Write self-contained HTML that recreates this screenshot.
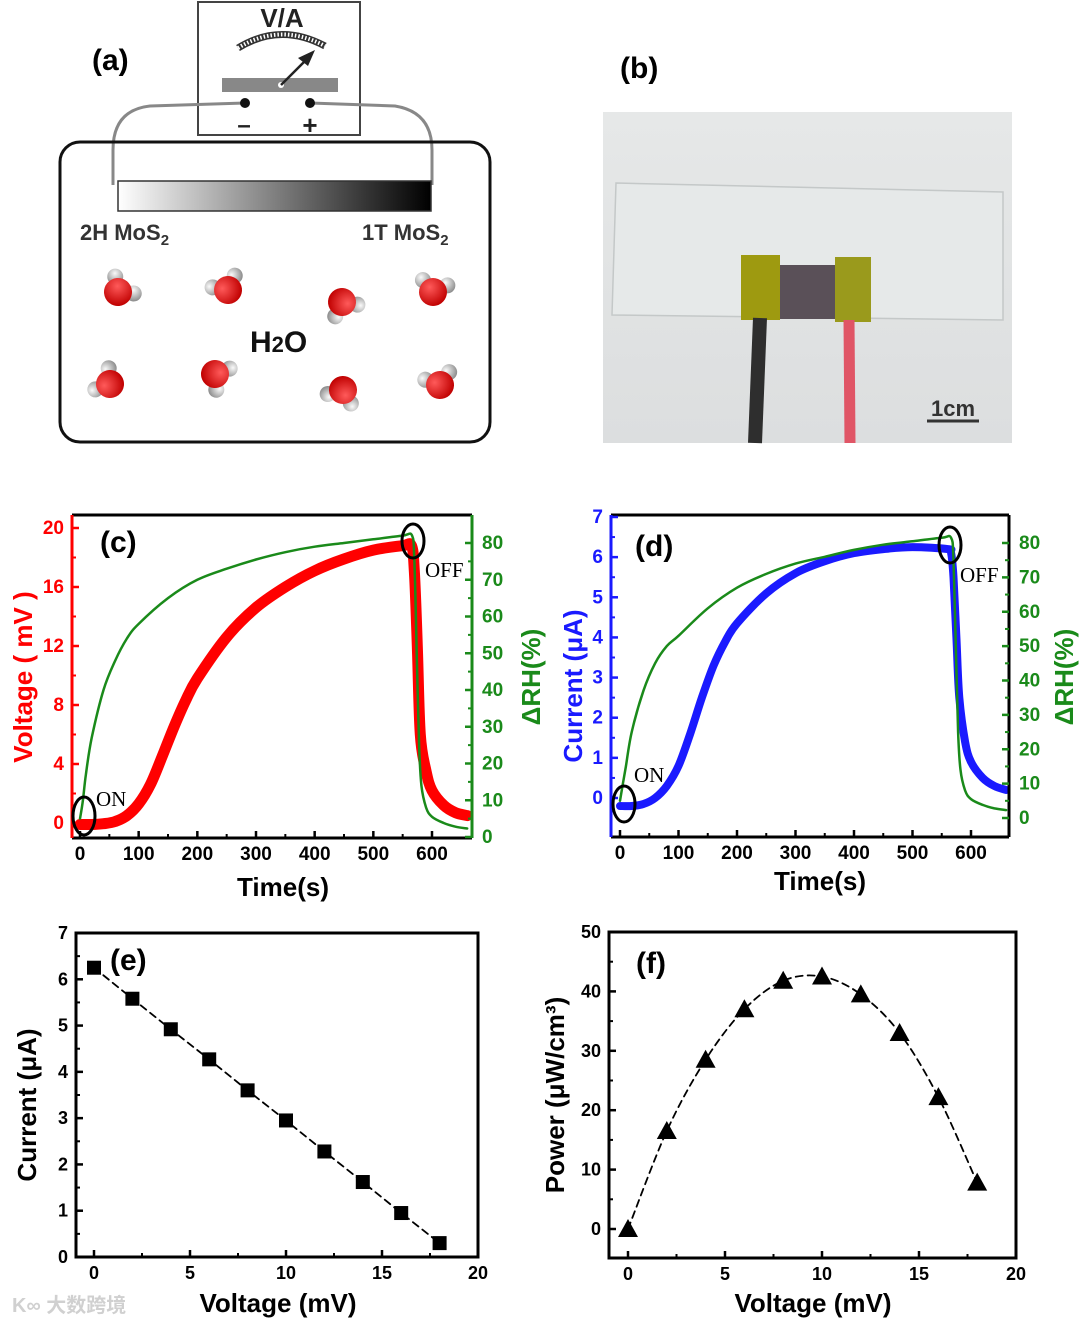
<!DOCTYPE html>
<html><head><meta charset="utf-8"><style>
html,body{margin:0;padding:0;background:#fff;}
svg{display:block;font-family:"Liberation Sans","Noto Sans CJK SC",sans-serif;}
.b{font-weight:bold;}
</style></head><body>
<svg id="fig" width="1080" height="1323" viewBox="0 0 1080 1323">
<defs>
<linearGradient id="gbar" x1="0" x2="1" y1="0" y2="0"><stop offset="0" stop-color="#fff"/><stop offset="1" stop-color="#000"/></linearGradient>
<linearGradient id="gphoto" x1="0" x2="0" y1="0" y2="1"><stop offset="0" stop-color="#e6e8e8"/><stop offset="1" stop-color="#dcdedf"/></linearGradient>
<radialGradient id="gO" cx="0.35" cy="0.35" r="0.7"><stop offset="0" stop-color="#ff5a5a"/><stop offset="1" stop-color="#c00000"/></radialGradient>
<radialGradient id="gH" cx="0.35" cy="0.35" r="0.7"><stop offset="0" stop-color="#fafafa"/><stop offset="1" stop-color="#8c8c8c"/></radialGradient>
</defs>

<!-- panel a -->
<g>
<text x="92" y="70" font-size="30" class="b">(a)</text>
<rect x="198" y="2" width="162" height="133" fill="#fff" stroke="#444" stroke-width="2"/>
<text x="282" y="27" font-size="26" class="b" text-anchor="middle" fill="#222">V/A</text>
<path d="M238,48 Q280,22 325,46" fill="none" stroke="#333" stroke-width="7"/>
<path d="M238,48 Q280,22 325,46" fill="none" stroke="#fff" stroke-width="4" stroke-dasharray="1.5 2"/>
<rect x="222" y="78" width="116" height="14" fill="#888"/>
<circle cx="281" cy="85" r="3" fill="#fff"/>
<line x1="281" y1="85" x2="308" y2="58" stroke="#222" stroke-width="2.5"/>
<polygon points="315,50 298,58 308,66" fill="#222"/>
<path d="M245,103 L150,106 Q113,110 113,150 L113,185" fill="none" stroke="#888" stroke-width="3"/>
<path d="M310,103 L395,106 Q432,112 432,150 L432,185" fill="none" stroke="#888" stroke-width="3"/>
<circle cx="245" cy="103" r="5" fill="#111"/><circle cx="310" cy="103" r="5" fill="#111"/>
<text x="244" y="133" font-size="24" class="b" text-anchor="middle" fill="#222">–</text>
<text x="310" y="134" font-size="26" class="b" text-anchor="middle" fill="#222">+</text>
<rect x="60" y="142" width="430" height="300" rx="20" fill="none" stroke="#111" stroke-width="3"/>
<rect x="118" y="181" width="313" height="30" fill="url(#gbar)" stroke="#333" stroke-width="1.5"/>
<text x="80" y="240" font-size="22" class="b" fill="#333">2H MoS<tspan font-size="15" dy="5">2</tspan></text>
<text x="362" y="240" font-size="22" class="b" fill="#333">1T MoS<tspan font-size="15" dy="5">2</tspan></text>
<text x="250" y="352" font-size="30" class="b" fill="#111">H<tspan font-size="22">2</tspan>O</text>
<g id="mols"></g>
</g>

<!-- panel b -->
<g>
<text x="620" y="78" font-size="30" class="b">(b)</text>
<rect x="603" y="112" width="409" height="331" fill="url(#gphoto)"/>
<polygon points="616,183 1003,192 1003,320 612,315" fill="#e6e9e9" stroke="#c4c8c8" stroke-width="1.5"/>
<rect x="779" y="265" width="58" height="54" fill="#5a5058"/>
<rect x="741" y="255" width="39" height="65" fill="#9e9a10"/>
<rect x="835" y="257" width="36" height="65" fill="#9a9a1c"/>
<path d="M760,318 L755,443" stroke="#2e2e2e" stroke-width="14"/>
<path d="M849,320 L850,443" stroke="#e05566" stroke-width="11"/>
<text x="953" y="416" font-size="22" class="b" text-anchor="middle" fill="#333">1cm</text>
<line x1="927" y1="421" x2="979" y2="421" stroke="#333" stroke-width="3"/>
</g>

<g id="pc"></g>
<g id="pd"></g>
<g id="pe"></g>
<g id="pf"></g>
<text x="12" y="1312" font-size="20" fill="#d0d0d0" class="b">K∞ 大数跨境</text>
</svg>
<script>
// ---- data ----
const timeC = [0,20,40,60,80,100,120,140,160,180,200,250,300,350,400,450,500,550,565,570,575,580,590,600,620,640,660];
const voltC = [-0.1,-0.1,-0.05,0.1,0.5,1.3,2.6,4.5,6.5,8.3,9.8,12.6,14.6,16.0,17.1,17.9,18.5,18.8,18.8,17,12,6,3.5,2.2,1.2,0.7,0.5];
const timeRH = [0,5,10,20,40,60,80,100,150,200,250,300,350,400,450,500,550,566,570,574,578,582,590,600,620,640,660];
const rhC = [5,10,17,27,40,48,54,58,65,70,73,75.5,77.5,79,80,81,82,82,75,50,25,14,8,5.5,3.8,2.8,2.3];
const timeD = [0,20,40,60,80,100,120,140,160,180,200,250,300,350,400,450,500,560,566,570,575,580,590,600,620,640,660];
const currD = [-0.2,-0.2,-0.15,0,0.3,0.8,1.6,2.5,3.3,3.9,4.35,5.1,5.6,5.9,6.1,6.2,6.25,6.2,6.1,5.5,4,2.5,1.4,0.9,0.5,0.3,0.2];
const rhD = [5,10,15,25,37,45,50,53,61,67,71,74,76,78,79.5,80.5,81.5,81.5,75,50,25,14,8,5.5,3.8,2.8,2.3];
const voltE = [0,2,4,6,8,10,12,14,16,18];
const currE = [6.25,5.58,4.92,4.27,3.6,2.95,2.28,1.62,0.95,0.3];
const powerF = [0,16.5,28.5,37,41.8,42.5,39.5,33,22.2,7.8];
const ticksT = [0,100,200,300,400,500,600];
const ticksVc = [0,4,8,12,16,20];
const ticksRHc = [0,10,20,30,40,50,60,70,80];
const ticksId = [0,1,2,3,4,5,6,7];
const ticksV = [0,5,10,15,20];
const ticksIe = [0,1,2,3,4,5,6,7];
const ticksP = [0,10,20,30,40,50];

const NS='http://www.w3.org/2000/svg';
function mk(parent,tag,attrs,text){const e=document.createElementNS(NS,tag);for(const k in attrs)e.setAttribute(k,attrs[k]);if(text!==undefined)e.textContent=text;parent.appendChild(e);return e;}
function lin(d0,d1,r0,r1){return v=>r0+(v-d0)*(r1-r0)/(d1-d0);}

// molecules
const molsG=document.getElementById('mols');
const mols=[[118,292,40],[228,290,-30],[342,302,150],[433,292,10],[110,384,-60],[215,374,120],[343,390,200],[440,385,-20]];
mols.forEach(m=>{const g=mk(molsG,'g',{transform:`translate(${m[0]},${m[1]}) rotate(${m[2]})`});


mk(g,'circle',{cx:-12,cy:-10,r:8,fill:'url(#gH)'});mk(g,'circle',{cx:13,cy:-9,r:8,fill:'url(#gH)'});mk(g,'circle',{cx:0,cy:0,r:14,fill:'url(#gO)'});});

function frame(g,x0,x1,y0,y1){
  const r=mk(g,'rect',{x:x0,y:y0,width:x1-x0,height:y1-y0,fill:'none',stroke:'#000','stroke-width':3});
  
  
}
function xAxis(g,ticks,sx,yb,fs){
  ticks.forEach((t,i)=>{mk(g,'line',{x1:sx(t),x2:sx(t),y1:yb,y2:yb-7,stroke:'#000','stroke-width':2.5});
    if(i<ticks.length-1){const m=(t+ticks[i+1])/2;mk(g,'line',{x1:sx(m),x2:sx(m),y1:yb,y2:yb-4,stroke:'#000','stroke-width':2});}
    const tx=mk(g,'text',{x:sx(t),y:yb+22,'font-size':fs,'font-weight':'bold','text-anchor':'middle'},String(t));
    
    });
}
function yAxis(g,ticks,sy,x,side,color,fs){
  const dir=side==='left'?1:-1;
  ticks.forEach((t,i)=>{mk(g,'line',{x1:x,x2:x+dir*7,y1:sy(t),y2:sy(t),stroke:color,'stroke-width':2.5});
    if(i<ticks.length-1){const m=(t+ticks[i+1])/2;mk(g,'line',{x1:x,x2:x+dir*4,y1:sy(m),y2:sy(m),stroke:color,'stroke-width':2});}
    const tx=mk(g,'text',{x:side==='left'?x-8:x+10,y:sy(t)+6,'font-size':fs,'font-weight':'bold','text-anchor':side==='left'?'end':'start',fill:color},String(t));
    
    });
}
function smoothPath(P){
  let d='M'+P[0][0].toFixed(1)+','+P[0][1].toFixed(1);
  for(let i=0;i<P.length-1;i++){
    const p0=P[Math.max(0,i-1)],p1=P[i],p2=P[i+1],p3=P[Math.min(P.length-1,i+2)];
    const c1=[p1[0]+(p2[0]-p0[0])/6,p1[1]+(p2[1]-p0[1])/6];
    const c2=[p2[0]-(p3[0]-p1[0])/6,p2[1]-(p3[1]-p1[1])/6];
    d+=` C${c1[0].toFixed(1)},${c1[1].toFixed(1)} ${c2[0].toFixed(1)},${c2[1].toFixed(1)} ${p2[0].toFixed(1)},${p2[1].toFixed(1)}`;
  }
  return d;
}
function line(g,xs,ys,sx,sy,color,w,dash,name,smooth){
  const P=xs.map((x,i)=>[sx(x),sy(ys[i])]);
  let p;
  if(smooth){p=mk(g,'path',{d:smoothPath(P),fill:'none',stroke:color,'stroke-width':w,'stroke-linejoin':'round','stroke-linecap':'round'});}
  else{p=mk(g,'polyline',{points:P.map(q=>q[0].toFixed(1)+','+q[1].toFixed(1)).join(' '),fill:'none',stroke:color,'stroke-width':w,'stroke-linejoin':'round','stroke-linecap':'round'});}
  if(dash)p.setAttribute('stroke-dasharray',dash);
  
  
}
function vtitle(g,x,y,txt,color,fs){const t=mk(g,'text',{x:x,y:y,'font-size':fs,'font-weight':'bold','text-anchor':'middle',fill:color,transform:`rotate(-90 ${x} ${y})`},txt);return t;}

// panel c
(function(){
  const g=document.getElementById('pc');
  const x0=72,x1=472,yt=515,yb=838;
  const sx=lin(0,600,80,432), sy=lin(0,20,823,528), sr=lin(0,80,837,543);
  line(g,timeC,voltC,sx,sy,'#ff0000',11,null,'voltage-series',true);
  line(g,timeRH,rhC,sx,sr,'#1a8a1a',2.5,null,'rh-series',true);
  mk(g,'line',{x1:x0,x2:x1,y1:yt,y2:yt,stroke:'#000','stroke-width':3});
  mk(g,'line',{x1:x0,x2:x1,y1:yb,y2:yb,stroke:'#000','stroke-width':3});
  mk(g,'line',{x1:x0,x2:x0,y1:yt,y2:yb,stroke:'#ff0000','stroke-width':3});
  mk(g,'line',{x1:x1,x2:x1,y1:yt,y2:yb,stroke:'#1a8a1a','stroke-width':3});
  xAxis(g,ticksT,sx,yb,19);
  yAxis(g,ticksVc,sy,x0,'left','#ff0000',19);
  yAxis(g,ticksRHc,sr,x1,'right','#1a8a1a',19);
  const t1=vtitle(g,32,677,'Voltage ( mV )','#ff0000',26);
  const t2=vtitle(g,540,677,'ΔRH(%)','#1a8a1a',26);
  const t3=mk(g,'text',{x:283,y:896,'font-size':26,'font-weight':'bold','text-anchor':'middle'},'Time(s)');
  const l=mk(g,'text',{x:100,y:552,'font-size':30,'font-weight':'bold'},'(c)');
  mk(g,'ellipse',{cx:84,cy:816,rx:11,ry:19,fill:'none',stroke:'#000','stroke-width':3});
  mk(g,'ellipse',{cx:413,cy:541,rx:11,ry:17,fill:'none',stroke:'#000','stroke-width':3});
  mk(g,'text',{x:96,y:806,'font-size':21,'font-family':'Liberation Serif'},'ON');
  mk(g,'text',{x:425,y:577,'font-size':21,'font-family':'Liberation Serif'},'OFF');
})();

// panel d
(function(){
  const g=document.getElementById('pd');
  const x0=611,x1=1009,yt=515,yb=837;
  const sx=lin(0,600,620,971), sy=lin(0,7,798,517), sr=lin(0,80,818,543);
  line(g,timeD,currD,sx,sy,'#1a1aff',8,null,'current-series',true);
  line(g,timeRH,rhD,sx,sr,'#1a8a1a',2.5,null,'rh-series',true);
  mk(g,'line',{x1:x0,x2:x1,y1:yt,y2:yt,stroke:'#000','stroke-width':3});
  mk(g,'line',{x1:x0,x2:x1,y1:yb,y2:yb,stroke:'#000','stroke-width':3});
  mk(g,'line',{x1:x0,x2:x0,y1:yt,y2:yb,stroke:'#1a1aff','stroke-width':3});
  mk(g,'line',{x1:x1,x2:x1,y1:yt,y2:yb,stroke:'#000','stroke-width':3});
  xAxis(g,ticksT,sx,yb,19);
  yAxis(g,ticksId,sy,x0,'left','#1a1aff',19);
  yAxis(g,ticksRHc,sr,x1,'right','#1a8a1a',19);
  const t1=vtitle(g,582,686,'Current  (μA)','#1a1aff',26);
  const t2=vtitle(g,1073,677,'ΔRH(%)','#1a8a1a',26);
  const t3=mk(g,'text',{x:820,y:890,'font-size':26,'font-weight':'bold','text-anchor':'middle'},'Time(s)');
  const l=mk(g,'text',{x:635,y:556,'font-size':30,'font-weight':'bold'},'(d)');
  mk(g,'ellipse',{cx:624,cy:804,rx:11,ry:18,fill:'none',stroke:'#000','stroke-width':3});
  mk(g,'ellipse',{cx:950,cy:545,rx:11,ry:18,fill:'none',stroke:'#000','stroke-width':3});
  mk(g,'text',{x:634,y:782,'font-size':21,'font-family':'Liberation Serif'},'ON');
  mk(g,'text',{x:960,y:582,'font-size':21,'font-family':'Liberation Serif'},'OFF');
})();

// panel e
(function(){
  const g=document.getElementById('pe');
  const x0=76,x1=478,yt=933,yb=1257;
  const sx=lin(0,20,94,478), sy=lin(0,7,1257,933);
  frame(g,x0,x1,yt,yb);
  line(g,voltE,currE,sx,sy,'#000',1.8,'7 5','iv-fit-line',false);
  voltE.forEach((v,i)=>{const r=mk(g,'rect',{x:sx(v)-7,y:sy(currE[i])-7,width:14,height:14,fill:'#000'});
    
    });
  xAxis(g,ticksV,sx,yb,18);
  yAxis(g,ticksIe,sy,x0,'left','#000',18);
  const t1=vtitle(g,36,1105,'Current  (μA)','#000',26);
  const t3=mk(g,'text',{x:278,y:1312,'font-size':26,'font-weight':'bold','text-anchor':'middle'},'Voltage  (mV)');
  const l=mk(g,'text',{x:110,y:970,'font-size':30,'font-weight':'bold'},'(e)');
})();

// panel f
(function(){
  const g=document.getElementById('pf');
  const x0=609,x1=1016,yt=932,yb=1258;
  const sx=lin(0,20,628,1016), sy=lin(0,50,1229,932);
  frame(g,x0,x1,yt,yb);
  line(g,voltE,powerF,sx,sy,'#000',1.8,'7 5','power-fit-line',true);
  voltE.forEach((v,i)=>{const cx=sx(v),cy=sy(powerF[i]);
    const p=mk(g,'polygon',{points:`${cx},${cy-10} ${cx-10},${cy+8} ${cx+10},${cy+8}`,fill:'#000'});
    
    });
  xAxis(g,ticksV,sx,yb,18);
  yAxis(g,ticksP,sy,x0,'left','#000',18);
  const t1=vtitle(g,564,1095,'Power  (μW/cm³)','#000',26);
  const t3=mk(g,'text',{x:813,y:1312,'font-size':26,'font-weight':'bold','text-anchor':'middle'},'Voltage  (mV)');
  const l=mk(g,'text',{x:636,y:973,'font-size':30,'font-weight':'bold'},'(f)');
})();
</script>
</body></html>
